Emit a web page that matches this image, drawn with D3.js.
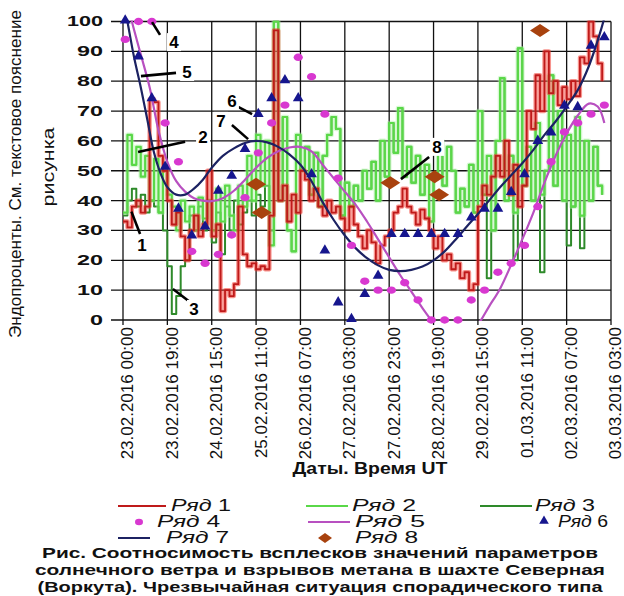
<!DOCTYPE html>
<html>
<head>
<meta charset="utf-8">
<script src="https://cdn.jsdelivr.net/npm/d3@7"></script>
<style>
  body { margin: 0; background: #fff; }
  svg { display: block; font-family: "Liberation Sans", Arial, sans-serif; }
</style>
</head>
<body>
<svg id="chart" width="624" height="596"></svg>
<script>
// Category axis labels (one every 20 hourly samples)
const tickLabels = [
  "23.02.2016 00:00", "23.02.2016 19:00", "24.02.2016 15:00", "25.02.2016 11:00",
  "26.02.2016 07:00", "27.02.2016 03:00", "27.02.2016 23:00", "28.02.2016 19:00",
  "29.02.2016 15:00", "01.03.2016 11:00", "02.03.2016 07:00", "03.03.2016 03:00"
];
const tickIndex = [0, 20, 40, 60, 80, 100, 120, 140, 160, 180, 200, 220];

// Ряд 1..3: hourly series, sampled every 2 categories
const row1 = [33,31,38,40,36,38,74,73,55,50,40,32,36,28,20,30,35,28,32,50,28,32,3,10,8,12,38,22,18,19,17,18,17,35,97,40,45,33,42,36,50,47,40,44,38,35,40,36,38,34,30,38,32,28,24,30,26,19,25,28,30,36,38,44,38,36,32,37,34,30,24,28,20,22,17,19,14,16,10,12,38,45,42,48,55,48,60,42,52,38,45,70,64,82,70,90,76,80,72,78,74,80,75,88,86,100,95,86,80];
const row2 = [36,62,52,58,48,55,40,54,36,50,42,38,30,40,33,38,30,41,34,40,30,44,33,45,35,30,45,38,55,40,62,45,60,25,100,40,68,30,23,62,50,58,42,56,38,55,62,68,64,35,46,38,45,40,50,44,53,40,60,48,66,56,71,48,58,46,55,42,52,33,48,60,45,58,50,36,44,38,52,36,70,42,55,30,60,81,40,55,36,91,45,58,40,66,42,50,82,45,70,40,62,38,68,35,60,40,58,45,42];
const row3 = [35,40,44,38,42,36,40,38,36,30,18,2,8,18,20,35,30,38,30,40,26,36,22,38,30,40,32,
  36,40,35,42,38,45,30,
  100,40,68,30,23,62,50,58,42,56,38,55,62,68,64,35,46,38,45,40,50,44,53,40,60,48,66,56,71,48,58,46,55,42,52,33,48,60,45,58,50,36,44,38,52,36,70,42,
  14,30,60,81,40,55,20,91,45,58,40,66,16,50,82,45,70,40,25,38,68,24,60,40,58,45,42];
const rowStep = 2;

// Ряд 4 and Ряд 6: one point every 6 categories, starting at category 1
const pointIndex = d3.range(1, 218, 6);
const row4 = [94,100,100,66,53,23,19,22,28.5,41,56,66,72,88,81.5,69,47.5,25,13,10,10,12.5,6.7,0,0,0,6.7,10,16,19,25,38,53,63,66,69,72];
const row6 = [100,88,74,51,37,28,31,43,48,57,68.7,74,80,74,48.5,23,5.6,0,8.4,14.5,28.5,28.5,28.5,28.5,28.5,28.5,34,37,37,42.6,48.5,59.7,62.5,71.5,71,91.6,94.4];

// Ряд 5 and Ряд 7: smooth trend curves
const row5Index = [0,4,8,12,16,20,24,28,32,36,40,45,50,55,60,65,70,75,80,85,90,95,100,105,110,115,120,125,130,135,140,145,150,155,160,165,170,175,180,185,190,195,200,205,210,214,217];
const row5 = [112,100,89,78,63.5,53,46.5,43,40.8,40,39.8,40.8,43.3,47,51,54.3,56.5,57.8,58,56.5,52,47.5,43,38.5,33,27,21,15,9.5,4,-1,-5,-6.5,-5,-1.5,4.5,10.5,18.5,27,36,46,55,62.5,68.5,72.5,71.5,66];
const row7Index = [0,2,5,8,11,14,17,20,24,28,32,36,40,45,50,55,60,65,70,75,80,85,90,95,100,105,110,115,120,125,130,135,140,145,150,155,160,165,170,175,180,185,190,195,200,205,210,215,218];
const row7 = [108,100,88,78,67,56,49,44.5,42,42,44,47,51,55,57.5,59.3,60,59.5,58,55.5,52,46.5,39.5,33.5,28.3,24,20.7,18.3,16.8,16.4,16.8,17.9,20,23,27,31.3,35.5,40,44.5,48.5,52.5,57,62,66.5,71.5,77,85,96,104];

// Ряд 8: isolated events
const row8Index = [60, 62.5, 120.5, 140.5, 142.5, 188];
const row8 = [45.5, 36, 46, 48, 42, 97];

const yTicks = [0,10,20,30,40,50,60,70,80,90,100];

// Numbered callouts: leader line (a -> b) and label position, in data units
const callouts = [
  { label: "1", a: [3.8, 36.3], b: [7.7, 28.8], t: [8.6, 25.1] },
  { label: "2", a: [6.8, 56.3], b: [28, 59.7], t: [36.1, 61.3] },
  { label: "3", a: [22.5, 10.4], b: [30.2, 6.0], t: [32, 3.7] },
  { label: "4", a: [13.1, 99.8], b: [16.7, 95.5], t: [23, 93.1] },
  { label: "5", a: [8.1, 81.7], b: [23.9, 82.8], t: [28.9, 83.1] },
  { label: "6", a: [51.9, 71.4], b: [58.2, 69.0], t: [49.1, 73.4] },
  { label: "7", a: [49.1, 65.3], b: [56.4, 60.6], t: [44.2, 66.7] },
  { label: "8", a: [125.3, 47.2], b: [138, 54.6], t: [141.6, 58] }
];

const captionLines = [
  "Рис. Соотносимость всплесков значений параметров",
  "солнечного ветра и взрывов метана в шахте Северная",
  "(Воркута). Чрезвычайная ситуация спорадического типа"
];

const colors = {
  r1: "#bf1a1a", r1glow: "#f03a30",
  r2: "#5ad848", r2glow: "#a8f0a0",
  r3: "#2e8a2a",
  r4: "#d838d0",
  r5: "#b850c0",
  r6: "#16168e",
  r7: "#1c2262",
  r8: "#a8420e"
};

const svg = d3.select("#chart");
const plotLeft = 123, plotRight = 611, plotTop = 21.5, plotBottom = 320;
const x = d3.scaleLinear().domain([0, 220]).range([plotLeft, plotRight]);
const y = d3.scaleLinear().domain([0, 100]).range([plotBottom, plotTop]);

svg.append("defs").append("clipPath").attr("id", "plot")
  .append("rect").attr("x", plotLeft).attr("y", plotTop - 1)
  .attr("width", plotRight - plotLeft).attr("height", plotBottom - plotTop + 2);

// Grid (horizontal lines run a little past the axis as tick marks)
const grid = svg.append("g").attr("stroke", "#111").attr("stroke-width", 1.3);
grid.selectAll(".h").data(yTicks).join("line")
  .attr("x1", plotLeft - 12).attr("x2", plotRight)
  .attr("y1", d => y(d)).attr("y2", d => y(d));
grid.selectAll(".v").data(tickIndex).join("line")
  .attr("x1", d => x(d)).attr("x2", d => x(d))
  .attr("y1", plotTop).attr("y2", plotBottom + 5);

// Y axis labels
const yAxis = svg.append("g").attr("transform", `translate(${plotLeft},0)`)
  .call(d3.axisLeft(y).tickValues(yTicks).tickSize(0).tickPadding(20));
yAxis.select(".domain").remove();
yAxis.selectAll("text")
  .attr("font-size", 14).attr("font-weight", "bold").attr("fill", "#111")
  .attr("font-family", "'Liberation Sans', Arial, sans-serif")
  .attr("textLength", d => d === 100 ? 36 : (d === 0 ? 13 : 26))
  .attr("lengthAdjust", "spacingAndGlyphs");

// X axis labels (rotated)
const xAxis = svg.append("g").attr("transform", `translate(0,${plotBottom})`)
  .call(d3.axisBottom(x).tickValues(tickIndex).tickSize(0)
    .tickFormat((d, i) => tickLabels[i]));
xAxis.select(".domain").remove();
xAxis.selectAll("text")
  .attr("font-size", 17).attr("fill", "#111")
  .attr("font-family", "'Liberation Sans', Arial, sans-serif")
  .attr("text-anchor", "end")
  .attr("transform", "rotate(-90)")
  .attr("x", -7).attr("y", 4).attr("dy", "0.35em");

// Axis titles
svg.append("text").attr("x", 370).attr("y", 474).attr("text-anchor", "middle")
  .attr("font-size", 16).attr("font-weight", "bold").attr("fill", "#111")
  .attr("textLength", 155).attr("lengthAdjust", "spacingAndGlyphs")
  .text("Даты. Время UT");
svg.append("text").attr("transform", "translate(21,174) rotate(-90)")
  .attr("text-anchor", "middle").attr("font-size", 17).attr("fill", "#111")
  .attr("textLength", 328).attr("lengthAdjust", "spacingAndGlyphs")
  .text("Эндопроценты. См. текстовое пояснение");
svg.append("text").attr("transform", "translate(54,167) rotate(-90)")
  .attr("text-anchor", "middle").attr("font-size", 17).attr("fill", "#111")
  .attr("textLength", 79).attr("lengthAdjust", "spacingAndGlyphs")
  .text("рисунка");

// Series
const plot = svg.append("g").attr("clip-path", "url(#plot)");
const stepLine = d3.line()
  .x((d, i) => x(i * rowStep)).y(d => y(d)).curve(d3.curveStepAfter);

function drawRow(data, color, width, glow, glowOpacity) {
  if (glow) {
    plot.append("path").datum(data).attr("d", stepLine)
      .attr("fill", "none").attr("stroke", glow).attr("stroke-width", width + 2.5)
      .attr("stroke-opacity", glowOpacity).attr("stroke-linejoin", "round");
  }
  plot.append("path").datum(data).attr("d", stepLine)
    .attr("fill", "none").attr("stroke", color).attr("stroke-width", width)
    .attr("stroke-linejoin", "round");
}
drawRow(row3, colors.r3, 2, null, 0);
drawRow(row2, colors.r2, 2.2, colors.r2glow, 0.45);
drawRow(row1, colors.r1, 1.8, colors.r1glow, 0.55);

const smooth = d3.line().x(d => x(d[0])).y(d => y(d[1])).curve(d3.curveCatmullRom.alpha(0.5));
plot.append("path").datum(row5Index.map((d, i) => [d, row5[i]])).attr("d", smooth)
  .attr("fill", "none").attr("stroke", colors.r5).attr("stroke-width", 2.2);
plot.append("path").datum(row7Index.map((d, i) => [d, row7[i]])).attr("d", smooth)
  .attr("fill", "none").attr("stroke", colors.r7).attr("stroke-width", 2.2);

// Markers
const marks = svg.append("g");
marks.selectAll(".dot").data(row4).join("ellipse")
  .attr("cx", (d, i) => x(pointIndex[i])).attr("cy", d => y(d))
  .attr("rx", 4.6).attr("ry", 3.7).attr("fill", colors.r4);
const tri = d3.symbol().type(d3.symbolTriangle).size(50);
marks.selectAll(".tri").data(row6).join("path")
  .attr("d", tri)
  .attr("transform", (d, i) => `translate(${x(pointIndex[i])},${y(d) - 1})`)
  .attr("fill", colors.r6);
marks.selectAll(".dia").data(row8).join("path")
  .attr("d", "M-10,0L0,-6.5L10,0L0,6.5Z")
  .attr("transform", (d, i) => `translate(${x(row8Index[i])},${y(d)})`)
  .attr("fill", colors.r8);

// Callouts
const notes = svg.append("g");
callouts.forEach(c => {
  notes.append("line")
    .attr("x1", x(c.a[0])).attr("y1", y(c.a[1]))
    .attr("x2", x(c.b[0])).attr("y2", y(c.b[1]))
    .attr("stroke", "#000").attr("stroke-width", 2.6);
  notes.append("rect")
    .attr("x", x(c.t[0]) - 7).attr("y", y(c.t[1]) - 9)
    .attr("width", 14).attr("height", 18).attr("fill", "#fff");
  notes.append("text")
    .attr("x", x(c.t[0])).attr("y", y(c.t[1])).attr("dy", "0.36em")
    .attr("text-anchor", "middle").attr("font-size", 17).attr("font-weight", "bold")
    .attr("fill", "#000").text(c.label);
});

// Legend: symbol span (x0..x1), text start and width
const legendItems = [
  { name: "Ряд 1", kind: "line", color: colors.r1, x0: 118, x1: 166, tx: 171, tw: 60, yy: 506 },
  { name: "Ряд 2", kind: "line", color: colors.r2, x0: 306, x1: 348, tx: 352, tw: 64, yy: 506 },
  { name: "Ряд 3", kind: "line", color: colors.r3, x0: 480, x1: 532, tx: 535, tw: 60, yy: 506 },
  { name: "Ряд 4", kind: "dot", color: colors.r4, x0: 132, x1: 146, tx: 157, tw: 63, yy: 522 },
  { name: "Ряд 5", kind: "line", color: colors.r5, x0: 308, x1: 350, tx: 355, tw: 70, yy: 522 },
  { name: "Ряд 6", kind: "tri", color: colors.r6, x0: 537, x1: 551, tx: 558, tw: 50, yy: 522 },
  { name: "Ряд 7", kind: "line", color: colors.r7, x0: 118, x1: 150, tx: 166, tw: 63, yy: 538 },
  { name: "Ряд 8", kind: "dia", color: colors.r8, x0: 318, x1: 332, tx: 355, tw: 63, yy: 538 }
];
const legend = svg.append("g");
legendItems.forEach(it => {
  const cx = (it.x0 + it.x1) / 2;
  if (it.kind === "line") {
    legend.append("line").attr("x1", it.x0).attr("x2", it.x1)
      .attr("y1", it.yy).attr("y2", it.yy).attr("stroke", it.color).attr("stroke-width", 2);
  } else if (it.kind === "dot") {
    legend.append("ellipse").attr("cx", cx).attr("cy", it.yy).attr("rx", 4).attr("ry", 3.3).attr("fill", it.color);
  } else if (it.kind === "tri") {
    legend.append("path").attr("d", d3.symbol().type(d3.symbolTriangle).size(40))
      .attr("transform", `translate(${cx},${it.yy - 1})`).attr("fill", it.color);
  } else {
    legend.append("path").attr("d", "M-7,0L0,-5L7,0L0,5Z")
      .attr("transform", `translate(${cx},${it.yy})`).attr("fill", it.color);
  }
  const t = legend.append("text").attr("x", it.tx).attr("y", it.yy + 5)
    .attr("font-size", 16).attr("fill", "#111")
    .attr("textLength", it.tw).attr("lengthAdjust", "spacingAndGlyphs");
  t.append("tspan").attr("font-style", "italic").text(it.name.split(" ")[0]);
  t.append("tspan").text(" " + it.name.split(" ")[1]);
});

// Caption
svg.append("g").selectAll("text").data(captionLines).join("text")
  .attr("x", 320).attr("y", (d, i) => 558 + i * 17)
  .attr("text-anchor", "middle").attr("font-size", 14).attr("font-weight", "bold")
  .attr("fill", "#111")
  .attr("textLength", (d, i) => [556, 570, 565][i]).attr("lengthAdjust", "spacingAndGlyphs")
  .text(d => d);
</script>
</body>
</html>
